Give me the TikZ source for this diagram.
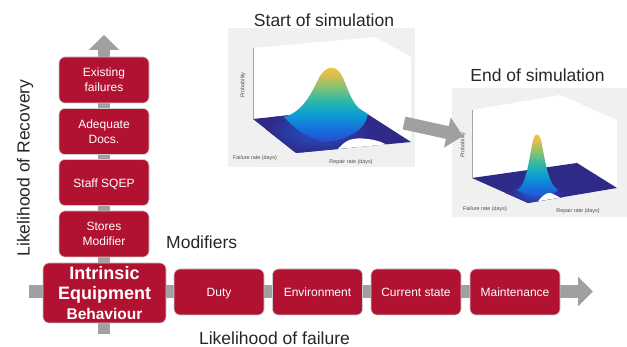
\documentclass[tikz,border=0pt]{standalone}
\usepackage{fontspec}
\setmainfont{Liberation Sans}
\usetikzlibrary{arrows.meta}
\definecolor{crim}{RGB}{178,18,50}
\definecolor{arrowgray}{RGB}{160,160,160}
\definecolor{floorblue}{RGB}{46,42,135}
\definecolor{glowblue}{RGB}{35,85,205}
\definecolor{plotbg}{RGB}{240,240,240}
\pgfdeclareverticalshading{parulabump}{100bp}{%
  rgb(0bp)=(0.16,0.30,0.80);
  rgb(25bp)=(0.16,0.30,0.80);
  rgb(34bp)=(0.08,0.45,0.86);
  rgb(42.5bp)=(0.05,0.62,0.82);
  rgb(51bp)=(0.18,0.72,0.66);
  rgb(59bp)=(0.50,0.76,0.46);
  rgb(67bp)=(0.86,0.74,0.32);
  rgb(75bp)=(0.98,0.82,0.16);
  rgb(100bp)=(0.98,0.82,0.16)}
\begin{document}
\begin{tikzpicture}[x=1pt,y=-1pt,
  box/.style={draw=black!20, line width=0.6pt, fill=crim, rounded corners=6pt, text=white,
    font=\fontsize{12}{15}\selectfont, align=center, minimum width=90pt, minimum height=46pt, inner sep=1pt},
  oneline/.style={text height=10pt, text depth=0pt},
  bigtext/.style={font=\fontsize{17.5}{21}\selectfont, text=black!85, inner sep=0pt},
  tinylabel/.style={font=\fontsize{5.4}{6}\selectfont, text=black!70, inner sep=0pt},
  bigarrow/.style={draw=arrowgray, line width=12pt, -{Triangle[length=15pt,width=30pt]}},
  wall/.style={fill=white, draw=none},
  edge/.style={draw=black!35, line width=0.4pt},
  bump/.style={shading=parulabump},
  glow/.style={inner color=glowblue, outer color=floorblue},
]
\useasboundingbox (0,0) rectangle (627,347);

% ---------- main arrows ----------
\coordinate (vb) at (104,334);
\coordinate (vt) at (104,35);
\coordinate (hl) at (29,291.5);
\coordinate (hr) at (593,291.5);
\draw[bigarrow] (vb) -- (vt);
\draw[bigarrow, line width=13pt, -{Triangle[length=15pt,width=29pt]}] (hl) -- (hr);

% ---------- boxes ----------
\node[box] (ef) at (104,80) {Existing\\failures};
\node[box] (ad) at (104,131.5) {Adequate\\Docs.};
\node[box, oneline] (ss) at (104,182.5) {Staff SQEP};
\node[box] (sm) at (104,234) {Stores\\Modifier};
\node[box, minimum width=123pt, minimum height=60pt, font=\bfseries\fontsize{18}{20}\selectfont] (ieb) at (104.5,293)
  {Intrinsic\\Equipment\\{\fontsize{15.5}{20}\selectfont Behaviour}};
\node[box, oneline] (du) at (219,292) {Duty};
\node[box, oneline] (en) at (317.5,292) {Environment};
\node[box, oneline] (cs) at (416,292) {Current state};
\node[box, oneline] (mt) at (515,292) {Maintenance};

% ---------- labels ----------
\node[bigtext] (lf) at (274.5,338) {Likelihood of failure};
\node[bigtext, anchor=west] (mod) at (166,242) {Modifiers};
\node[bigtext, rotate=90] (lr) at (25,168) {Likelihood of Recovery};
\node[bigtext] (sos) at (324,20) {Start of simulation};
\node[bigtext] (eos) at (537.5,75) {End of simulation};

% ---------- start plot ----------
\fill[plotbg] (228,28) rectangle (415,167);
\path[wall] (253,48) -- (375,37) -- (411,57) -- (411,142) -- (296,153) -- (253,119) -- cycle;
\draw[edge] (253,48) -- (253,119);
\fill[floorblue] (253,119) -- (296,153) -- (411,142) -- (358,108) -- cycle;
\begin{scope}
  \clip (253,119) -- (296,153) -- (411,142) -- (358,108) -- cycle;
  \shade[glow] (318,130) ellipse (52 and 24);
\end{scope}
\shade[bump]
  (284,117) .. controls (302,112) and (310,96) .. (318,80)
  .. controls (324,66) and (336,62) .. (343,78)
  .. controls (350,94) and (353,108) .. (368,114)
  .. controls (366,128) and (350,140) .. (325,142)
  .. controls (305,138) and (292,126) .. (284,117) -- cycle;
\fill[white] (338,149) .. controls (345,141) and (350,138) .. (362,138.5)
  .. controls (372,139) and (380,141) .. (386,144.4) -- cycle;
\node[tinylabel, rotate=90] (p1) at (243,85) {Probability};
\node[tinylabel] (f1) at (255,158) {Failure rate (days)};
\node[tinylabel] (r1) at (351,162) {Repair rate (days)};

% ---------- end plot ----------
\fill[plotbg] (452,88) rectangle (627,217);
\path[wall] (472,110) -- (560,95) -- (617,120) -- (617,188) -- (528,203) -- (472,178) -- cycle;
\draw[edge] (472,110) -- (472,178);
\fill[floorblue] (472,178) -- (528,203) -- (617,188) -- (577,163) -- cycle;
\begin{scope}
  \clip (472,178) -- (528,203) -- (617,188) -- (577,163) -- cycle;
  \shade[glow] (535,194) ellipse (30 and 12);
\end{scope}
\shade[bump]
  (517,190) .. controls (526,186) and (529,160) .. (532,145)
  .. controls (534,131) and (540,131) .. (542,145)
  .. controls (545,160) and (548,184) .. (558,190)
  .. controls (552,197) and (530,200) .. (517,190) -- cycle;
\fill[white] (538,201.3) .. controls (543,195) and (547,192.5) .. (550,193)
  .. controls (554,194) and (557,196) .. (560,197.6) -- cycle;
\node[tinylabel, rotate=90] (p2) at (463,145) {Probability};
\node[tinylabel] (f2) at (485,209) {Failure rate (days)};
\node[tinylabel] (r2) at (578,211) {Repair rate (days)};

% ---------- arrow between plots ----------
\coordinate (a1) at (404,123);
\coordinate (a2) at (463,136);
\draw[bigarrow, line width=13pt, -{Triangle[length=16pt,width=30pt]}] (a1) -- (a2);
\end{tikzpicture}
\end{document}
